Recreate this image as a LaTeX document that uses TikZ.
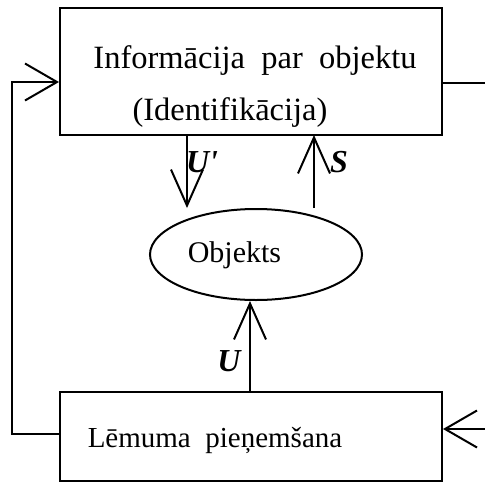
\documentclass[tikz,border=0pt]{standalone}
\usepackage{fontspec}
\setmainfont{Liberation Serif}
\usetikzlibrary{arrows.meta,shapes.geometric}
\begin{document}
\begin{tikzpicture}[x=1pt,y=-1pt,line width=2pt,
  blockbox/.style={draw,rectangle,inner sep=0pt},
  objell/.style={draw,ellipse,inner sep=0pt,minimum width=212pt,minimum height=91pt},
  txt/.style={inner sep=0pt,anchor=base,font=\fontsize{30}{36}\selectfont},
  bigtxt/.style={inner sep=0pt,anchor=base,font=\fontsize{32.5}{38}\selectfont},
  sig/.style={inner sep=0pt,font=\fontsize{32}{38}\selectfont\bfseries\itshape},
  vtip/.style={-{Straight Barb[length=36pt,width=32pt]}},
  htip/.style={-{Straight Barb[length=32pt,width=37pt]}}]
\useasboundingbox (0,0) rectangle (485,483);
% blocks
\node[blockbox,minimum width=382pt,minimum height=127pt] (info) at (251,71.5) {};
\node[blockbox,minimum width=382pt,minimum height=89pt] (dec) at (251,436.5) {};
\node[objell] (obj) at (256,254.5) {};
% texts
\node[bigtxt] (t1) at (255,68) {Informācija\ \ par\ \ objektu};
\node[bigtxt] (t2) at (230,120) {(Identifikācija)};
\node[txt] (t3) at (234.5,262) {Objekts};
\node[txt,font=\fontsize{29}{35}\selectfont] (t4) at (215,447) {Lēmuma\ \ pieņemšana};
% signal labels
\node[sig] (lu1) at (202,162) {U\textquotesingle};
\node[sig] (ls) at (339,162) {S};
\node[sig] (lu) at (229,361) {U};
% connection points
\coordinate (a1) at (187,135);
\coordinate (a2) at (314,135);
\coordinate (a3) at (250,392);
\coordinate (lft) at (12,82);
\coordinate (lfb) at (12,434);
\coordinate (rt) at (485,83);
\coordinate (rb) at (485,429);
% connectors
\draw[vtip] (a1) -- (a1 |- obj.north);
\draw[vtip] (a2 |- obj.north) -- (a2);
\draw[vtip] (a3) -- (a3 |- obj.south);
\draw[htip] (lfb -| dec.west) -- (lfb) -- (lft) -- (lft -| info.west);
\draw (rt -| info.east) -- (rt);
\draw[htip] (rb) -- (rb -| dec.east);
\end{tikzpicture}
\end{document}
